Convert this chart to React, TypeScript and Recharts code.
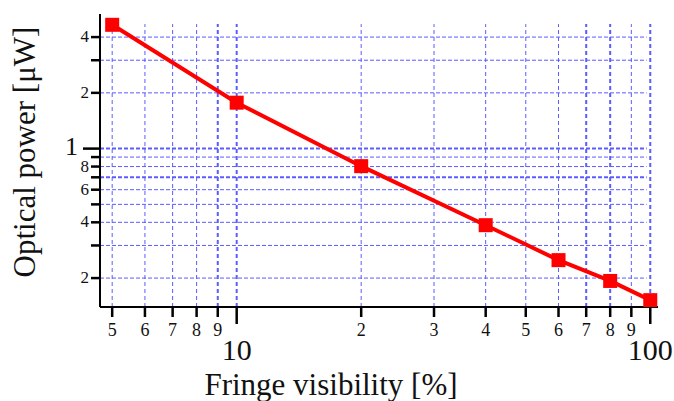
import { LineChart, Line, XAxis, YAxis, ReferenceLine } from "recharts";

const visibility = [5, 10, 20, 40, 60, 80, 100];
const power = [4.66, 1.77, 0.804, 0.386, 0.25, 0.193, 0.152];

const xTicks = [5, 6, 7, 8, 9, 10, 20, 30, 40, 50, 60, 70, 80, 90, 100];
const xTickLabels = ["5", "6", "7", "8", "9", "10", "2", "3", "4", "5", "6", "7", "8", "9", "100"];
const xMajor = [10, 100];
const xThickGrid = [9, 10, 70, 80, 100];

const yTicks = [0.2, 0.3, 0.4, 0.5, 0.6, 0.7, 0.8, 0.9, 1, 2, 3, 4];
const yTickLabels = ["2", "", "4", "", "6", "", "8", "", "1", "2", "", "4"];
const yMajor = [1];
const yThickGrid = [1, 0.7];

const X_DOMAIN = [4.672, 104.4];
const Y_DOMAIN = [0.1396, 5.33];

const data = visibility.map((x, i) => ({ x, y: power[i] }));

const FONT = '"Liberation Serif", "Times New Roman", serif';
const GRID = "#5c5cff";

function XTick(props: any) {
  const { x, y, payload } = props;
  const i = xTicks.indexOf(payload.value);
  const major = xMajor.includes(payload.value);
  return (
    <g>
      <line x1={x} x2={x} y1={y} y2={y + (major ? 17 : 10)} stroke="#000" strokeWidth={2.5} />
      <text
        x={x}
        y={major ? 360 : 335.5}
        textAnchor="middle"
        fontFamily={FONT}
        fontSize={major ? 30 : 18}
        fill="#111"
      >
        {xTickLabels[i]}
      </text>
    </g>
  );
}

function YTick(props: any) {
  const { x, y, payload } = props;
  const i = yTicks.indexOf(payload.value);
  const major = yMajor.includes(payload.value);
  return (
    <g>
      <line x1={x - (major ? 17 : 9)} x2={x} y1={y} y2={y} stroke="#000" strokeWidth={2.5} />
      <text
        x={major ? 78 : 89}
        y={y + (major ? 6 : 5)}
        textAnchor="end"
        fontFamily={FONT}
        fontSize={major ? 26 : 17}
        fill="#111"
      >
        {yTickLabels[i]}
      </text>
    </g>
  );
}

function SquareDot(props: any) {
  const { cx, cy } = props;
  if (cx == null || cy == null) return null;
  return <rect x={cx - 7} y={cy - 7} width={14} height={14} fill="#ff0000" />;
}

export default function App() {
  return (
    <div style={{ position: "absolute", left: 0, top: 0, background: "#fff" }}>
      <LineChart
        width={674}
        height={401}
        data={data}
        margin={{ top: 14, right: 16, bottom: 0, left: 0 }}
      >
        <XAxis
          dataKey="x"
          type="number"
          scale="log"
          domain={X_DOMAIN}
          allowDataOverflow
          ticks={xTicks}
          interval={0}
          height={94}
          tickSize={0}
          tickMargin={0}
          tickLine={false}
          tick={<XTick />}
          axisLine={{ stroke: "#000", strokeWidth: 2 }}
          label={() => (
            <text x={331} y={395} textAnchor="middle" fontFamily={FONT} fontSize={31} fill="#111">
              Fringe visibility [%]
            </text>
          )}
        />
        <XAxis
          xAxisId="top"
          dataKey="x"
          type="number"
          scale="log"
          domain={X_DOMAIN}
          allowDataOverflow
          orientation="top"
          height={0}
          tick={false}
          tickLine={false}
          axisLine={{ stroke: "#000", strokeWidth: 2 }}
        />
        <YAxis
          type="number"
          scale="log"
          domain={Y_DOMAIN}
          allowDataOverflow
          ticks={yTicks}
          interval={0}
          width={100}
          tickSize={0}
          tickMargin={0}
          tickLine={false}
          tick={<YTick />}
          axisLine={{ stroke: "#000", strokeWidth: 2 }}
          label={() => (
            <text
              x={35}
              y={152}
              transform="rotate(-90, 35, 152)"
              textAnchor="middle"
              fontFamily={FONT}
              fontSize={31}
              fill="#111"
            >
              Optical power [μW]
            </text>
          )}
        />
        <YAxis
          yAxisId="right"
          type="number"
          scale="log"
          domain={Y_DOMAIN}
          allowDataOverflow
          orientation="right"
          width={0}
          tick={false}
          tickLine={false}
          axisLine={{ stroke: "#222", strokeWidth: 2 }}
        />
        {yTicks.map((v) => (
          <ReferenceLine
            key={`h-${v}`}
            segment={[
              { x: X_DOMAIN[0], y: v },
              { x: 98, y: v },
            ]}
            stroke={GRID}
            strokeWidth={yThickGrid.includes(v) ? 2 : 1}
            strokeDasharray="4 2"
            ifOverflow="visible"
          />
        ))}
        {xTicks.map((v) => (
          <ReferenceLine
            key={`v-${v}`}
            segment={[
              { x: v, y: Y_DOMAIN[0] },
              { x: v, y: 4.7 },
            ]}
            stroke={GRID}
            strokeWidth={xThickGrid.includes(v) ? 2 : 1}
            strokeDasharray="4 3"
            ifOverflow="visible"
          />
        ))}
        <Line
          dataKey="y"
          stroke="#ff0000"
          strokeWidth={4}
          dot={<SquareDot />}
          activeDot={false}
          isAnimationActive={false}
        />
      </LineChart>
    </div>
  );
}
